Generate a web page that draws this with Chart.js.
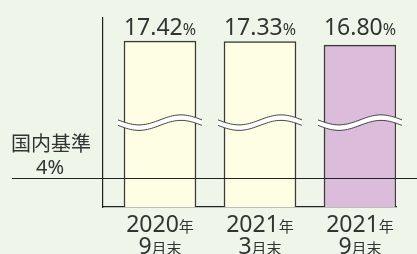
<!DOCTYPE html>
<html>
<head>
<meta charset="utf-8">
<style>
  html, body { margin: 0; padding: 0; background: #eff5e8; }
</style>
<script src="https://cdn.jsdelivr.net/npm/chart.js@4.4.1/dist/chart.umd.min.js"></script>
</head>
<body>
<canvas id="ratioChart" width="417" height="254"></canvas>
<script>
// data
const years = ['2020', '2021', '2021'];
const months = ['9', '3', '9'];
const ratios = [17.42, 17.33, 16.80];
const barColors = ['#fefee4', '#fefee4', '#dbbcdb'];
const domesticStd = 4;      // 国内基準
const breakAt = 10;         // where the axis is cut

const FONT = '"Noto Sans", "Noto Sans CJK JP", sans-serif';
const TEXT = '#333';

// piecewise y axis: [value, fraction of axis height]
const yStops = [[0, 0], [8, 0.307], [15, 0.795], [21, 1]];

function toDecimal(v) {
    for (let i = 1; i < yStops.length; i++) {
        const a = yStops[i - 1], b = yStops[i];
        if (v <= b[0] || i === yStops.length - 1) {
            return a[1] + (v - a[0]) / (b[0] - a[0]) * (b[1] - a[1]);
        }
    }
}
function fromDecimal(d) {
    for (let i = 1; i < yStops.length; i++) {
        const a = yStops[i - 1], b = yStops[i];
        if (d <= b[1] || i === yStops.length - 1) {
            return a[0] + (d - a[1]) / (b[1] - a[1]) * (b[0] - a[0]);
        }
    }
}

class BrokenScale extends Chart.LinearScale {
    getPixelForValue(value) {
        return this.getPixelForDecimal(toDecimal(value));
    }
    getValueForPixel(pixel) {
        return fromDecimal(this.getDecimalForPixel(pixel));
    }
}
BrokenScale.id = 'broken';
BrokenScale.defaults = Chart.LinearScale.defaults;
Chart.register(BrokenScale);

// text made of pieces with different sizes, centred on cx
function drawParts(ctx, parts, cx, y) {
    let total = 0;
    parts.forEach(p => {
        ctx.font = p[1] + 'px ' + FONT;
        total += ctx.measureText(p[0]).width;
    });
    let x = cx - total / 2;
    parts.forEach(p => {
        ctx.font = p[1] + 'px ' + FONT;
        ctx.fillText(p[0], x, y);
        x += ctx.measureText(p[0]).width;
    });
}

function drawWave(ctx, x0, x1, yc) {
    const amp = 5, gap = 5.5, n = 40;
    const top = [], bot = [];
    for (let i = 0; i <= n; i++) {
        const x = x0 + (x1 - x0) * i / n;
        const y = yc - gap / 2 + amp * Math.sin(2 * Math.PI * i / n);
        top.push([x, y]);
        bot.push([x, y + gap]);
    }
    ctx.beginPath();
    top.forEach((p, i) => i ? ctx.lineTo(p[0], p[1]) : ctx.moveTo(p[0], p[1]));
    for (let i = bot.length - 1; i >= 0; i--) ctx.lineTo(bot[i][0], bot[i][1]);
    ctx.closePath();
    ctx.fillStyle = '#ffffff';
    ctx.fill();
    ctx.strokeStyle = '#444';
    ctx.lineWidth = 1;
    ctx.beginPath();
    top.forEach((p, i) => i ? ctx.lineTo(p[0], p[1]) : ctx.moveTo(p[0], p[1]));
    ctx.stroke();
    ctx.beginPath();
    bot.forEach((p, i) => i ? ctx.lineTo(p[0], p[1]) : ctx.moveTo(p[0], p[1]));
    ctx.stroke();
}

const decorations = {
    id: 'decorations',
    afterDatasetsDraw(chart) {
        const ctx = chart.ctx;
        const xs = chart.scales.x, ys = chart.scales.y;
        const meta = chart.getDatasetMeta(0);
        ctx.save();

        // cut marks
        const yBreak = ys.getPixelForValue(breakAt);
        meta.data.forEach(bar => {
            const half = bar.width / 2;
            drawWave(ctx, bar.x - half - 6, bar.x + half + 6, yBreak);
        });

        // domestic standard line
        const yStd = Math.round(ys.getPixelForValue(domesticStd)) + 0.5;
        ctx.strokeStyle = '#222';
        ctx.lineWidth = 1.2;
        ctx.beginPath();
        ctx.moveTo(12, yStd);
        ctx.lineTo(chart.width, yStd);
        ctx.stroke();

        ctx.fillStyle = TEXT;
        ctx.textBaseline = 'alphabetic';
        drawParts(ctx, [['国内基準', 20]], 51, yStd - 28);
        drawParts(ctx, [[domesticStd + '', 20], ['%', 20]], 50, yStd - 5);

        // values over bars
        ratios.forEach((v, i) => {
            const cx = xs.getPixelForValue(i + 1);
            drawParts(ctx, [[v.toFixed(2), 23], ['%', 16]], cx, 35);
        });

        // category labels
        years.forEach((y, i) => {
            const cx = xs.getPixelForValue(i + 1);
            drawParts(ctx, [[y, 23], ['年', 15]], cx, 231.5);
            drawParts(ctx, [[months[i], 23], ['月末', 15]], cx, 254);
        });
        ctx.restore();
    }
};

new Chart(document.getElementById('ratioChart'), {
    type: 'bar',
    data: {
        datasets: [{
            data: ratios.map((v, i) => ({ x: i + 1, y: v })),
            backgroundColor: barColors,
            borderColor: '#3a3a3a',
            borderWidth: 1.5,
            barThickness: 72
        }]
    },
    options: {
        responsive: false,
        animation: false,
        layout: { padding: { left: 103, right: 21, top: 18, bottom: 47 } },
        plugins: { legend: { display: false }, tooltip: { enabled: false } },
        scales: {
            x: {
                type: 'linear',
                offset: false,
                min: 0.43,
                max: 3.36,
                grid: { display: false, drawTicks: false, offset: false },
                border: { display: true, color: '#222', width: 1.2 },
                ticks: { display: false },
                afterFit: s => { s.height = 0; }
            },
            y: {
                type: 'broken',
                min: 0,
                max: 21,
                grid: { display: false, drawTicks: false },
                border: { display: true, color: '#222', width: 1.2 },
                ticks: { display: false },
                afterFit: s => { s.width = 0; }
            }
        }
    },
    plugins: [decorations]
});
</script>
</body>
</html>
